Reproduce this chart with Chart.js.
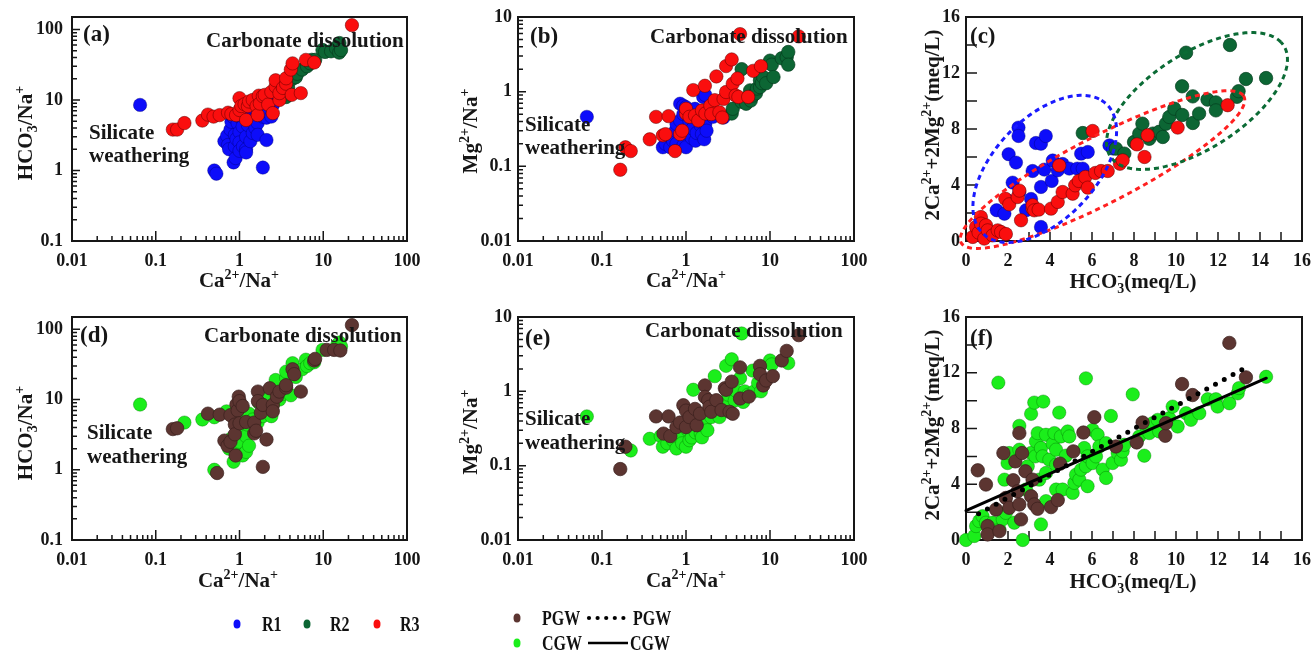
<!DOCTYPE html>
<html>
<head>
<meta charset="utf-8">
<title>Ion ratio plots</title>
<script src="https://cdn.jsdelivr.net/npm/chart.js@4.4.1/dist/chart.umd.min.js"></script>
<style>
  body { margin: 0; background: #fff; }
  #page { position: relative; width: 1312px; height: 652px; overflow: hidden; background: #fff; }
  #page canvas { position: absolute; }
  .key { position: absolute; font: bold 20px "Liberation Serif", "Times New Roman", serif; line-height: 20px; color: #111;
         transform: scaleX(0.8); transform-origin: 0 50%; white-space: nowrap; }
</style>
</head>
<body>
<div id="page">
  <canvas id="pa" width="430" height="300" style="left:0;top:0"></canvas>
  <canvas id="pb" width="440" height="300" style="left:430px;top:0"></canvas>
  <canvas id="pc" width="442" height="300" style="left:870px;top:0"></canvas>
  <canvas id="pd" width="430" height="300" style="left:0;top:300px"></canvas>
  <canvas id="pe" width="440" height="300" style="left:430px;top:300px"></canvas>
  <canvas id="pf" width="442" height="300" style="left:870px;top:300px"></canvas>
  <canvas id="keyArt" width="1312" height="57" style="left:0;top:595px"></canvas>
  <div class="key" style="left:262px;top:614px">R1</div>
  <div class="key" style="left:330px;top:614px">R2</div>
  <div class="key" style="left:400px;top:614px">R3</div>
  <div class="key" style="left:542px;top:608px">PGW</div>
  <div class="key" style="left:633px;top:608px">PGW</div>
  <div class="key" style="left:542px;top:633px">CGW</div>
  <div class="key" style="left:630px;top:633px">CGW</div>
</div>
<script>
// ---- axis ticks ----
const caNaTicks = [0.01, 0.1, 1, 10, 100];
const caNaLabels = ['0.01', '0.1', '1', '10', '100'];
const hco3NaTicks = [0.1, 1, 10, 100];
const hco3NaLabels = ['0.1', '1', '10', '100'];
const mgNaTicks = [0.01, 0.1, 1, 10];
const mgNaLabels = ['0.01', '0.1', '1', '10'];
const meqTicksX = [0, 1, 2, 3, 4, 5, 6, 7, 8, 9, 10, 11, 12, 13, 14, 15, 16];
const meqLabelsX = [0, 2, 4, 6, 8, 10, 12, 14, 16];
const meqTicksY = [0, 2, 4, 6, 8, 10, 12, 14, 16];
const meqLabelsY = [0, 4, 8, 12, 16];

// ---- (a) HCO3/Na vs Ca/Na by region ----
const aR1 = [[0.065,8.5],[0.5,1.0],[0.53,0.9],[0.66,2.6],[0.71,3.1],[0.73,2.3],[0.75,2.0],[0.78,3.8],[0.8,4.9],[0.83,5.8],
  [0.85,1.3],[0.88,3.2],[0.88,2.2],[0.9,1.5],[0.92,2.8],[0.95,4.7],[1.0,3.5],[1.0,2.5],[1.0,1.9],[1.0,5.8],[1.09,4.2],
  [1.1,2.2],[1.2,3.0],[1.2,2.0],[1.2,1.8],[1.26,4.4],[1.3,6.3],[1.35,2.6],[1.44,5.2],[1.44,3.4],[1.55,4.0],[1.65,4.7],
  [1.65,3.2],[1.75,6.8],[1.9,5.8],[1.9,1.1],[2.1,8.0],[2.1,5.6],[2.1,2.7],[2.2,6.8],[2.4,5.8],[2.4,9.0],[2.5,8.5]];
const aR2 = [[3.6,11],[3.8,15],[4.3,20],[4.7,21],[4.9,23.5],[5.6,27],[6.4,30],[7.0,33],[7.3,37],[8.0,37],[9.8,51],
  [10.5,48],[12.4,49],[14.2,54],[15.5,47],[15.6,64],[16.3,51]];
const aR3 = [[0.16,3.8],[0.18,3.8],[0.22,4.7],[0.36,5.1],[0.42,6.2],[0.49,5.8],[0.58,6.1],[0.73,6.6],[0.8,6.3],[0.91,6.1],
  [1.0,7.2],[1.0,10.6],[1.05,8.2],[1.15,8.7],[1.2,5.2],[1.26,8.2],[1.3,9.5],[1.44,10],[1.6,8.2],[1.65,6.1],[1.7,11.5],
  [1.75,8.9],[1.9,11.3],[2.0,11.8],[2.2,8.6],[2.4,13],[2.5,6.5],[2.7,15.5],[2.7,19],[3.0,10],[3.0,12.5],[3.3,14.8],
  [3.6,17],[3.6,20.3],[4.1,27],[4.2,11.8],[4.3,33],[5.4,12.5],[6.2,37],[7.8,34],[22,115]];

// ---- (b) Mg/Na vs Ca/Na by region ----
const bR1 = [[0.066,0.46],[0.53,0.18],[0.57,0.2],[0.65,0.26],[0.65,0.18],[0.7,0.22],[0.75,0.3],[0.77,0.37],[0.77,0.2],
  [0.85,0.41],[0.85,0.69],[0.9,0.28],[0.93,0.5],[0.93,0.65],[0.93,0.19],[1.0,0.62],[1.0,0.3],[1.0,0.18],[1.1,0.53],
  [1.1,0.4],[1.17,0.24],[1.2,0.32],[1.28,0.59],[1.3,0.22],[1.34,0.28],[1.48,0.46],[1.5,0.35],[1.55,0.27],[1.6,0.85],
  [1.65,0.23],[1.7,0.9],[1.7,0.37],[1.76,0.3],[2.1,0.46],[2.8,0.45]];
const bR2 = [[3.5,0.51],[3.6,0.59],[4.6,2.0],[4.6,0.73],[5.0,0.8],[5.2,0.69],[5.8,1.04],[5.9,0.76],[6.3,0.89],[6.8,0.95],
  [7.0,1.1],[7.6,1.15],[7.6,1.42],[8.0,1.3],[8.3,1.57],[9.0,1.3],[10,2.6],[10.5,2.3],[11,1.57],[13.8,2.8],[15.8,2.9],
  [16.5,3.4],[16.5,2.3]];
const bR3 = [[0.165,0.09],[0.19,0.18],[0.22,0.16],[0.37,0.23],[0.44,0.46],[0.53,0.26],[0.57,0.27],[0.62,0.47],[0.74,0.16],
  [0.85,0.27],[0.9,0.3],[1.0,0.51],[1.0,0.59],[1.1,0.46],[1.22,1.05],[1.28,0.48],[1.4,0.41],[1.55,0.56],[1.68,1.2],
  [1.7,0.51],[1.95,0.65],[2.0,0.5],[2.2,0.77],[2.3,1.6],[2.5,0.53],[2.7,0.45],[2.8,0.8],[3.0,0.99],[3.0,2.2],[3.5,2.7],
  [3.6,1.28],[3.9,0.89],[4.1,1.5],[4.2,0.85],[4.4,5.9],[5.5,0.85],[6.3,1.9],[7.8,2.2],[22,5.5]];

// ---- (c) 2Ca+2Mg vs HCO3 by region ----
const cR1 = [[0.7,0.4],[1.46,2.2],[1.83,1.95],[1.98,2.9],[2.03,6.2],[2.22,4.17],[2.38,5.6],[2.5,8.1],[2.5,7.5],[2.54,3.5],
  [2.86,2.2],[3.1,3.0],[3.17,5.0],[3.33,7.0],[3.57,6.95],[3.57,3.86],[3.57,1.0],[3.73,5.1],[3.8,7.5],[4.08,4.29],
  [4.13,5.75],[4.37,5.05],[4.6,5.5],[4.92,5.17],[5.3,5.17],[5.48,6.24],[5.56,5.17],[5.8,6.36],[6.83,6.83],[7.0,6.6]];
const cR2 = [[5.56,7.71],[7.14,6.6],[7.54,6.24],[8.0,7.07],[8.25,7.67],[8.4,8.38],[8.73,7.3],[8.9,7.67],[9.2,7.8],
  [9.37,7.43],[9.52,8.38],[9.68,8.86],[9.92,9.45],[10.3,9.0],[10.29,11.05],[10.48,13.45],[10.8,10.33],[10.8,8.43],
  [11.1,9.1],[11.5,10.1],[11.9,9.9],[11.9,9.33],[12.57,14.0],[12.9,10.3],[12.98,10.7],[13.33,11.57],[14.29,11.64]];
const cR3 = [[0.32,0.29],[0.48,1.0],[0.6,0.6],[0.71,1.71],[0.71,1.24],[0.87,0.17],[0.95,1.12],[1.03,0.76],[1.27,0.4],
  [1.51,0.76],[1.67,0.64],[1.87,3.02],[1.9,0.5],[2.06,2.62],[2.46,3.14],[2.54,3.6],[2.62,1.48],[3.17,2.31],[3.17,2.55],
  [3.25,2.19],[3.46,2.24],[4.05,2.31],[4.37,2.79],[4.44,5.4],[4.6,3.5],[5.08,3.38],[5.2,3.98],[5.37,4.29],[5.68,4.57],
  [5.8,3.81],[6.03,7.86],[6.16,4.86],[6.43,5.0],[6.75,5.0],[7.33,5.52],[7.46,5.76],[8.14,6.9],[8.5,6.0],[8.65,7.55],
  [10.08,8.1],[12.46,9.7]];
// dashed envelopes: centre, and the two half-axis vectors
const envR1 = { c: [3.75, 5.15], u: [2.7, 4.9], v: [2.1, -1.9] };
const envR2 = { c: [11.0, 10.0], u: [4.0, 4.2], v: [-1.6, 2.5] };
const envR3 = { c: [6.5, 5.1], u: [6.7, 5.3], v: [-1.0, 1.9] };

// ---- (d) HCO3/Na vs Ca/Na by groundwater type ----
const dPGW = [[0.16,3.8],[0.18,3.9],[0.42,6.3],[0.54,0.9],[0.58,6.1],[0.66,2.6],[0.72,2.2],[0.78,2.5],[0.78,6.0],
  [0.88,4.4],[0.88,3.2],[0.9,1.6],[0.92,8.5],[0.95,7.0],[0.98,11],[1.0,9.5],[1.0,4.6],[1.09,8.1],[1.2,4.8],[1.5,4.7],
  [1.5,3.3],[1.58,3.6],[1.66,13],[1.66,9.5],[1.8,6.5],[1.9,8.4],[1.9,1.1],[2.1,2.7],[2.3,14.5],[2.5,8.4],[2.5,6.8],
  [2.8,11],[3.0,13],[3.6,14.8],[3.6,16],[4.3,27],[4.5,23],[5.4,13],[7.8,36],[8.0,38],[11,51],[13.5,51],[16,50],[22,115]];
const dCGW = [[0.065,8.5],[0.22,4.7],[0.36,5.2],[0.5,5.6],[0.5,1.0],[0.7,6.8],[0.73,2.3],[0.75,2.0],[0.8,2.8],[0.83,5.8],
  [0.85,1.3],[0.88,1.9],[0.95,4.7],[1.0,3.5],[1.0,2.5],[1.0,5.8],[1.09,1.6],[1.09,4.2],[1.2,3.0],[1.2,1.8],[1.2,6.0],
  [1.26,4.4],[1.3,6.3],[1.3,2.2],[1.44,5.2],[1.65,4.7],[1.7,9],[1.9,5.8],[2.0,10.5],[2.2,6.8],[2.4,5.8],[2.5,8.5],
  [2.7,15.5],[2.7,19],[3.0,10],[3.3,12],[3.6,20.3],[3.6,25],[4.1,11.5],[4.3,33],[4.7,21],[5.6,27],[6.2,37],[6.4,30],
  [7.0,33],[7.8,34],[9.8,51],[14.5,58],[15.6,65],[16.3,57]];

// ---- (e) Mg/Na vs Ca/Na by groundwater type ----
const ePGW = [[0.165,0.09],[0.19,0.18],[0.44,0.46],[0.54,0.27],[0.62,0.46],[0.65,0.25],[0.77,0.33],[0.85,0.38],
  [0.93,0.65],[1.0,0.55],[1.0,0.33],[1.1,0.45],[1.28,0.58],[1.34,0.35],[1.47,0.5],[1.68,1.2],[1.68,0.84],[1.84,0.76],
  [1.9,0.62],[2.0,0.53],[2.3,0.76],[2.65,0.56],[2.9,1.1],[3.0,1.05],[3.3,0.53],[3.5,1.35],[3.6,0.5],[4.4,2.1],[4.4,0.8],
  [5.6,0.85],[7.6,2.2],[7.6,1.7],[8.3,1.2],[9.0,1.4],[10.8,1.6],[13.8,2.6],[15.8,3.5],[22,5.7]];
const eCGW = [[0.066,0.46],[0.22,0.16],[0.37,0.23],[0.5,0.25],[0.53,0.18],[0.6,0.2],[0.7,0.22],[0.77,0.17],[0.85,0.28],
  [0.9,0.2],[1.0,0.18],[1.05,0.3],[1.1,0.22],[1.17,0.24],[1.22,1.05],[1.3,0.28],[1.4,0.4],[1.5,0.27],[1.55,0.24],
  [1.6,0.35],[1.7,0.4],[1.8,0.3],[2.0,0.45],[2.2,1.6],[2.5,0.45],[2.6,0.7],[2.8,0.65],[3.0,2.2],[3.2,0.9],[3.5,2.7],
  [3.8,0.75],[4.0,1.0],[4.4,1.5],[4.6,6.0],[4.8,0.72],[5.0,1.0],[5.5,0.9],[6.2,1.9],[6.5,1.0],[7.2,1.3],[7.8,1.0],
  [10,2.6],[10.5,2.3],[16.5,2.4]];

// ---- (f) 2Ca+2Mg vs HCO3 by groundwater type ----
const fPGW = [[0.56,5.0],[0.95,3.98],[1.03,1.0],[1.03,0.4],[1.43,2.19],[1.59,0.64],[1.78,6.24],[1.9,3.02],[2.06,2.31],
  [2.25,4.29],[2.35,5.64],[2.46,3.5],[2.54,7.67],[2.54,2.55],[2.62,1.48],[2.67,6.24],[2.83,4.93],[3.1,3.14],[3.17,4.33],
  [3.25,2.55],[3.41,2.24],[4.05,2.36],[4.37,2.86],[4.48,5.48],[5.11,6.36],[5.59,7.71],[6.11,8.81],[7.14,6.71],
  [8.13,7.0],[8.41,8.43],[9.49,7.48],[9.52,8.38],[10.29,11.19],[10.79,10.4],[12.54,14.14],[13.33,11.67]];
const fCGW = [[0,0],[0.4,0.29],[0.48,1.0],[0.63,1.36],[0.79,1.71],[0.95,1.24],[1.27,1.24],[1.54,11.29],[1.59,0.76],
  [1.75,1.48],[1.83,4.33],[1.9,1.95],[1.98,5.52],[2.06,6.24],[2.3,1.24],[2.54,8.19],[2.54,6.48],[2.7,0],[2.86,3.62],
  [2.94,5.29],[3.1,9.05],[3.1,6.24],[3.25,9.86],[3.3,6.0],[3.33,7.07],[3.41,7.67],[3.49,4.33],[3.57,6.6],[3.57,1.12],
  [3.65,6.0],[3.68,9.93],[3.81,7.55],[3.81,4.81],[3.81,2.79],[3.97,5.76],[4.13,6.9],[4.21,7.67],[4.29,6.48],[4.29,5.4],
  [4.29,3.62],[4.44,9.14],[4.52,7.43],[4.6,3.62],[4.76,6.05],[4.84,7.79],[4.92,7.43],[5.08,3.38],[5.16,4.1],[5.24,4.69],
  [5.4,4.33],[5.48,5.05],[5.63,6.6],[5.71,11.6],[5.71,5.29],[5.79,6.0],[5.79,3.86],[6.03,7.9],[6.03,5.52],[6.19,6.0],
  [6.27,7.55],[6.35,6.71],[6.51,5.05],[6.67,6.95],[6.67,4.45],[6.9,8.9],[6.98,5.52],[7.22,6.24],[7.38,5.76],[7.46,6.36],
  [7.54,6.83],[7.94,10.45],[8.25,7.43],[8.49,6.05],[8.57,8.14],[8.73,7.67],[8.89,8.38],[9.13,8.62],[9.2,7.79],
  [9.68,8.74],[9.84,9.57],[10.08,8.14],[10.48,9.1],[10.71,8.62],[11.11,9.1],[11.51,10.1],[11.9,10.1],[11.98,9.57],
  [12.54,9.81],[12.94,10.52],[13.0,10.9],[14.29,11.71]];
// linear fits: [x start, x end], slope, intercept
const pgwFitRange = [0.6, 13.2];
const pgwFit = { slope: 0.824, intercept: 1.39 };
const cgwFitRange = [0, 14.3];
const cgwFit = { slope: 0.665, intercept: 2.1 };

// ---- styling ----
const BLUE = '#0d0dfa', DKGREEN = '#0c6634', RED = '#fa0e0e', BROWN = '#5c3531', LIME = '#1bee1b', INK = '#161616';
const SERIF = '"Liberation Serif", "Times New Roman", serif';

const xy = pts => pts.map(p => ({ x: p[0], y: p[1] }));

function dots(pts, fill, edge, order) {
  return { data: xy(pts), backgroundColor: fill, borderColor: edge, borderWidth: 0.7,
           pointRadius: 6.7, order: order, clip: false };
}

function envelope(e, color) {
  const ring = [];
  for (let i = 0; i <= 160; i++) {
    const t = 2 * Math.PI * i / 160;
    ring.push({ x: e.c[0] + e.u[0] * Math.cos(t) + e.v[0] * Math.sin(t),
                y: e.c[1] + e.u[1] * Math.cos(t) + e.v[1] * Math.sin(t) });
  }
  return { type: 'line', data: ring, borderColor: color, borderWidth: 3, borderDash: [5, 4],
           pointRadius: 0, tension: 0, fill: false, order: 0, clip: false };
}

function fitLine(range, fit, dash, width) {
  const data = range.map(x => ({ x: x, y: fit.intercept + fit.slope * x }));
  return { type: 'line', data: data, borderColor: '#000', borderWidth: width, borderDash: dash,
           borderCapStyle: 'round', pointRadius: 0, tension: 0, fill: false, order: 0, clip: false };
}

// tick marks point into the plot, long on labelled values
function logAxis(min, max, majors, labels, majorLen) {
  const marks = [];
  majors.forEach(m => {
    marks.push([m, majorLen]);
    for (let k = 2; k < 10; k++) if (m * k < max) marks.push([m * k, 5]);
  });
  return { type: 'logarithmic', min: min, max: max, marks: marks, labelAt: majors, labels: labels };
}
function linAxis(ticks, len, labelAt) {
  return { type: 'linear', min: 0, max: 16, marks: ticks.map(v => [v, len]),
           labelAt: labelAt, labels: labelAt.map(String) };
}

// text with super/subscripts; a superscript right after a subscript sits above it
function drawRich(ctx, parts, cx, cy, vertical) {
  const big = 'bold 21px ' + SERIF, small = 'bold 14px ' + SERIF;
  const laid = [];
  let w = 0, lastSub = null;
  parts.forEach(([txt, kind]) => {
    ctx.font = kind ? small : big;
    const tw = ctx.measureText(txt).width;
    if (kind === 'sup' && lastSub) {
      laid.push({ txt, kind, x: lastSub.x });
      w = Math.max(w, lastSub.x + tw);
      lastSub = null;
      return;
    }
    const item = { txt, kind, x: w };
    laid.push(item);
    w += tw;
    lastSub = kind === 'sub' ? item : null;
  });
  ctx.save();
  ctx.translate(cx, cy);
  if (vertical) ctx.rotate(-Math.PI / 2);
  ctx.textAlign = 'left';
  ctx.textBaseline = 'alphabetic';
  laid.forEach(it => {
    ctx.font = it.kind ? small : big;
    const dy = it.kind === 'sup' ? -8 : it.kind === 'sub' ? 5 : 0;
    ctx.fillText(it.txt, it.x - w / 2, 7 + dy);
  });
  ctx.restore();
}

function decor(p) {
  return {
    id: 'decor',
    beforeDatasetsDraw(chart) {
      const { ctx, chartArea: a, scales } = chart;
      ctx.save();
      ctx.strokeStyle = INK;
      ctx.lineWidth = 1.5;
      ctx.beginPath();
      p.x.marks.forEach(([v, len]) => {
        const px = scales.x.getPixelForValue(v);
        ctx.moveTo(px, a.bottom);
        ctx.lineTo(px, a.bottom - len);
      });
      p.y.marks.forEach(([v, len]) => {
        const py = scales.y.getPixelForValue(v);
        ctx.moveTo(a.left, py);
        ctx.lineTo(a.left + len, py);
      });
      ctx.stroke();
      ctx.lineWidth = 2;
      ctx.strokeRect(a.left, a.top, a.right - a.left, a.bottom - a.top);

      ctx.fillStyle = INK;
      ctx.font = 'bold 18px ' + SERIF;
      ctx.textBaseline = 'middle';
      ctx.textAlign = 'center';
      p.x.labels.forEach((t, i) => ctx.fillText(t, scales.x.getPixelForValue(p.x.labelAt[i]), a.bottom + 20));
      ctx.textAlign = 'right';
      p.y.labels.forEach((t, i) => ctx.fillText(t, a.left - p.yGap, scales.y.getPixelForValue(p.y.labelAt[i])));

      drawRich(ctx, p.xTitle, p.xTitleAt[0], p.xTitleAt[1], false);
      drawRich(ctx, p.yTitle, p.yTitleAt[0], p.yTitleAt[1], true);
      ctx.restore();
    },
    afterDatasetsDraw(chart) {
      const ctx = chart.ctx;
      ctx.save();
      ctx.fillStyle = INK;
      ctx.textAlign = 'left';
      ctx.textBaseline = 'alphabetic';
      p.notes.forEach(([txt, x, y, size]) => {
        ctx.font = 'bold ' + size + 'px ' + SERIF;
        ctx.fillText(txt, x, y);
      });
      ctx.restore();
    }
  };
}

function panel(id, area, p, datasets) {
  const cv = document.getElementById(id);
  const W = cv.width, H = cv.height;
  const axis = (spec, fit) => ({
    type: spec.type, min: spec.min, max: spec.max, display: true,
    ticks: { display: false }, grid: { display: false, drawTicks: false },
    border: { display: false }, title: { display: false }, afterFit: fit
  });
  new Chart(cv, {
    type: 'scatter',
    data: { datasets: datasets },
    options: {
      responsive: false, animation: false, events: [],
      layout: { padding: { left: 0, top: area.top, right: W - area.right, bottom: 0 } },
      plugins: { legend: { display: false }, tooltip: { enabled: false } },
      scales: {
        x: axis(p.x, s => { s.height = H - area.bottom; }),
        y: axis(p.y, s => { s.width = area.left; })
      }
    },
    plugins: [decor(p)]
  });
}

const caNaTitle = [['Ca'], ['2+', 'sup'], ['/Na'], ['+', 'sup']];
const hco3NaTitle = [['HCO'], ['3', 'sub'], ['-', 'sup'], ['/Na'], ['+', 'sup']];
const mgNaTitle = [['Mg'], ['2+', 'sup'], ['/Na'], ['+', 'sup']];
const hco3Title = [['HCO'], ['3', 'sub'], ['-', 'sup'], ['(meq/L)']];
const sumTitle = [['2Ca'], ['2+', 'sup'], ['+2Mg'], ['2+', 'sup'], ['(meq/L)']];

const xCaNa = logAxis(0.01, 100, caNaTicks, caNaLabels, 10);
const yHco3Na = logAxis(0.1, 150, hco3NaTicks, hco3NaLabels, 8);
const yMgNa = logAxis(0.01, 10, mgNaTicks, mgNaLabels, 8);
const xMeq = linAxis(meqTicksX, 9, meqLabelsX);
const yMeq = linAxis(meqTicksY, 11, meqLabelsY);

const edge = { blue: 'rgba(0,0,110,0.55)', dkgreen: '#053d1e', red: 'rgba(90,0,0,0.7)',
               brown: '#3a1f1c', lime: 'rgba(0,110,0,0.55)' };

// top row: regions R1-R3
panel('pa', { left: 72, top: 17, right: 407, bottom: 241 }, {
  x: xCaNa, y: yHco3Na, yGap: 9,
  xTitle: caNaTitle, xTitleAt: [239, 280], yTitle: hco3NaTitle, yTitleAt: [25, 133],
  notes: [['(a)', 83, 41, 23], ['Carbonate dissolution', 206, 47, 21], ['Silicate', 89, 139, 21], ['weathering', 89, 162, 21]]
}, [dots(aR3, RED, edge.red, 1), dots(aR2, DKGREEN, edge.dkgreen, 2), dots(aR1, BLUE, edge.blue, 3)]);

panel('pb', { left: 88, top: 17, right: 424, bottom: 241 }, {
  x: xCaNa, y: yMgNa, yGap: 6,
  xTitle: caNaTitle, xTitleAt: [256, 280], yTitle: mgNaTitle, yTitleAt: [40, 131],
  notes: [['(b)', 100, 43, 23], ['Carbonate dissolution', 220, 43, 21], ['Silicate', 95, 131, 21], ['weathering', 95, 154, 21]]
}, [dots(bR3, RED, edge.red, 1), dots(bR2, DKGREEN, edge.dkgreen, 2), dots(bR1, BLUE, edge.blue, 3)]);

panel('pc', { left: 96, top: 17, right: 432, bottom: 241 }, {
  x: xMeq, y: yMeq, yGap: 6,
  xTitle: hco3Title, xTitleAt: [263, 281], yTitle: sumTitle, yTitleAt: [62, 125],
  notes: [['(c)', 100, 43, 23]]
}, [envelope(envR1, '#1a1aff'), envelope(envR2, '#0b6b35'), envelope(envR3, '#ff2020'),
    dots(cR3, RED, edge.red, 1), dots(cR2, DKGREEN, edge.dkgreen, 2), dots(cR1, BLUE, edge.blue, 3)]);

// bottom row: PGW / CGW
panel('pd', { left: 72, top: 17, right: 407, bottom: 240 }, {
  x: xCaNa, y: yHco3Na, yGap: 9,
  xTitle: caNaTitle, xTitleAt: [238, 280], yTitle: hco3NaTitle, yTitleAt: [25, 133],
  notes: [['(d)', 80, 42, 23], ['Carbonate dissolution', 204, 42, 21], ['Silicate', 87, 139, 21], ['weathering', 87, 163, 21]]
}, [dots(dPGW, BROWN, edge.brown, 1), dots(dCGW, LIME, edge.lime, 2)]);

panel('pe', { left: 88, top: 17, right: 424, bottom: 240 }, {
  x: xCaNa, y: yMgNa, yGap: 6,
  xTitle: caNaTitle, xTitleAt: [256, 280], yTitle: mgNaTitle, yTitleAt: [40, 132],
  notes: [['(e)', 95, 45, 23], ['Carbonate dissolution', 215, 37, 21], ['Silicate', 95, 125, 21], ['weathering', 95, 149, 21]]
}, [dots(ePGW, BROWN, edge.brown, 1), dots(eCGW, LIME, edge.lime, 2)]);

panel('pf', { left: 96, top: 17, right: 432, bottom: 240 }, {
  x: xMeq, y: yMeq, yGap: 6,
  xTitle: hco3Title, xTitleAt: [263, 281], yTitle: sumTitle, yTitleAt: [62, 125],
  notes: [['(f)', 100, 45, 23]]
}, [fitLine(pgwFitRange, pgwFit, [0, 10], 5), fitLine(cgwFitRange, cgwFit, [], 3),
    dots(fPGW, BROWN, edge.brown, 1), dots(fCGW, LIME, edge.lime, 2)]);

// legend symbols
(function () {
  const ctx = document.getElementById('keyArt').getContext('2d');
  const blob = (x, y, c) => {
    ctx.fillStyle = c;
    ctx.beginPath();
    ctx.ellipse(x, y, 3.5, 4.5, 0, 0, 2 * Math.PI);
    ctx.fill();
  };
  blob(237, 29, BLUE);
  blob(307, 29, DKGREEN);
  blob(377, 29, RED);
  blob(517, 23, BROWN);
  blob(517, 48, LIME);
  ctx.fillStyle = '#000';
  for (let i = 0; i < 5; i++) {
    ctx.beginPath();
    ctx.arc(589 + i * 8.6, 23, 2.1, 0, 2 * Math.PI);
    ctx.fill();
  }
  ctx.strokeStyle = '#000';
  ctx.lineWidth = 2.5;
  ctx.beginPath();
  ctx.moveTo(588, 48);
  ctx.lineTo(628, 48);
  ctx.stroke();
})();
</script>
</body>
</html>
